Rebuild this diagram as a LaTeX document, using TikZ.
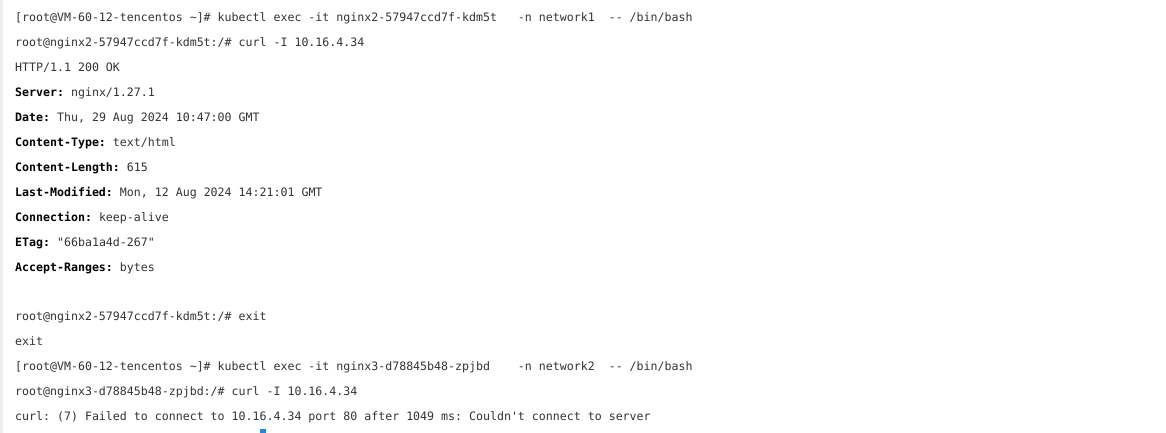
\documentclass[tikz,border=0pt]{standalone}
\usepackage{xcolor}
\usepackage{fontspec}
\usepackage{tikz}
\setmonofont{DejaVu Sans Mono}
\definecolor{termtext}{HTML}{333333}
\definecolor{stripgray}{HTML}{EEEEEE}
\definecolor{markblue}{HTML}{1E88E5}
\tikzset{termline/.style={anchor=base west, inner sep=0pt, text=termtext,
    font=\ttfamily\fontsize{11.6}{12}\selectfont}}
\newcommand{\hdrkey}[1]{\textbf{\color{black}#1}}

\begin{document}
\begin{tikzpicture}[x=1pt,y=1pt]
                    \useasboundingbox (0,0) rectangle (1166,-433);
                    \fill [white] (0,0) rectangle (1166,-433);%
                    \fill [stripgray] (0,0) rectangle (3,-433);%

                    % First session, nginx2 in network1
                    \draw (15,-22.0) node [termline] (l1) {[root@VM-60-12-tencentos \textasciitilde]\# kubectl exec -it nginx2-57947ccd7f-kdm5t\ \ \ -n network1\ \ -- /bin/bash};%
                    \draw (15,-46.9) node [termline] (l2) {root@nginx2-57947ccd7f-kdm5t:/\# curl -I 10.16.4.34};%

                    % Response headers
                    \draw (15,-71.8) node [termline] (l3) {HTTP/1.1 200 OK};%
                    \draw (15,-96.7) node [termline] (l4) {\hdrkey{Server:} nginx/1.27.1};%
                    \draw (15,-121.6) node [termline] (l5) {\hdrkey{Date:} Thu, 29 Aug 2024 10:47:00 GMT};%
                    \draw (15,-146.5) node [termline] (l6) {\hdrkey{Content-Type:} text/html};%
                    \draw (15,-171.4) node [termline] (l7) {\hdrkey{Content-Length:} 615};%
                    \draw (15,-196.3) node [termline] (l8) {\hdrkey{Last-Modified:} Mon, 12 Aug 2024 14:21:01 GMT};%
                    \draw (15,-221.2) node [termline] (l9) {\hdrkey{Connection:} keep-alive};%
                    \draw (15,-246.1) node [termline] (l10) {\hdrkey{ETag:} "66ba1a4d-267"};%
                    \draw (15,-271.0) node [termline] (l11) {\hdrkey{Accept-Ranges:} bytes};%

                    % Leaving the pod
                    \draw (15,-320.8) node [termline] (l13) {root@nginx2-57947ccd7f-kdm5t:/\# exit};%
                    \draw (15,-345.7) node [termline] (l14) {exit};%

                    % Second session, nginx3 in network2
                    \draw (15,-370.6) node [termline] (l15) {[root@VM-60-12-tencentos \textasciitilde]\# kubectl exec -it nginx3-d78845b48-zpjbd\ \ \ \ -n network2\ \ -- /bin/bash};%
                    \draw (15,-395.5) node [termline] (l16) {root@nginx3-d78845b48-zpjbd:/\# curl -I 10.16.4.34};%
                    \draw (15,-420.4) node [termline] (l17) {curl: (7) Failed to connect to 10.16.4.34 port 80 after 1049 ms: Couldn't connect to server};%

                    % Cursor mark
                    \fill [markblue] (260,-429) rectangle (266,-433);%
\end{tikzpicture}
\end{document}
